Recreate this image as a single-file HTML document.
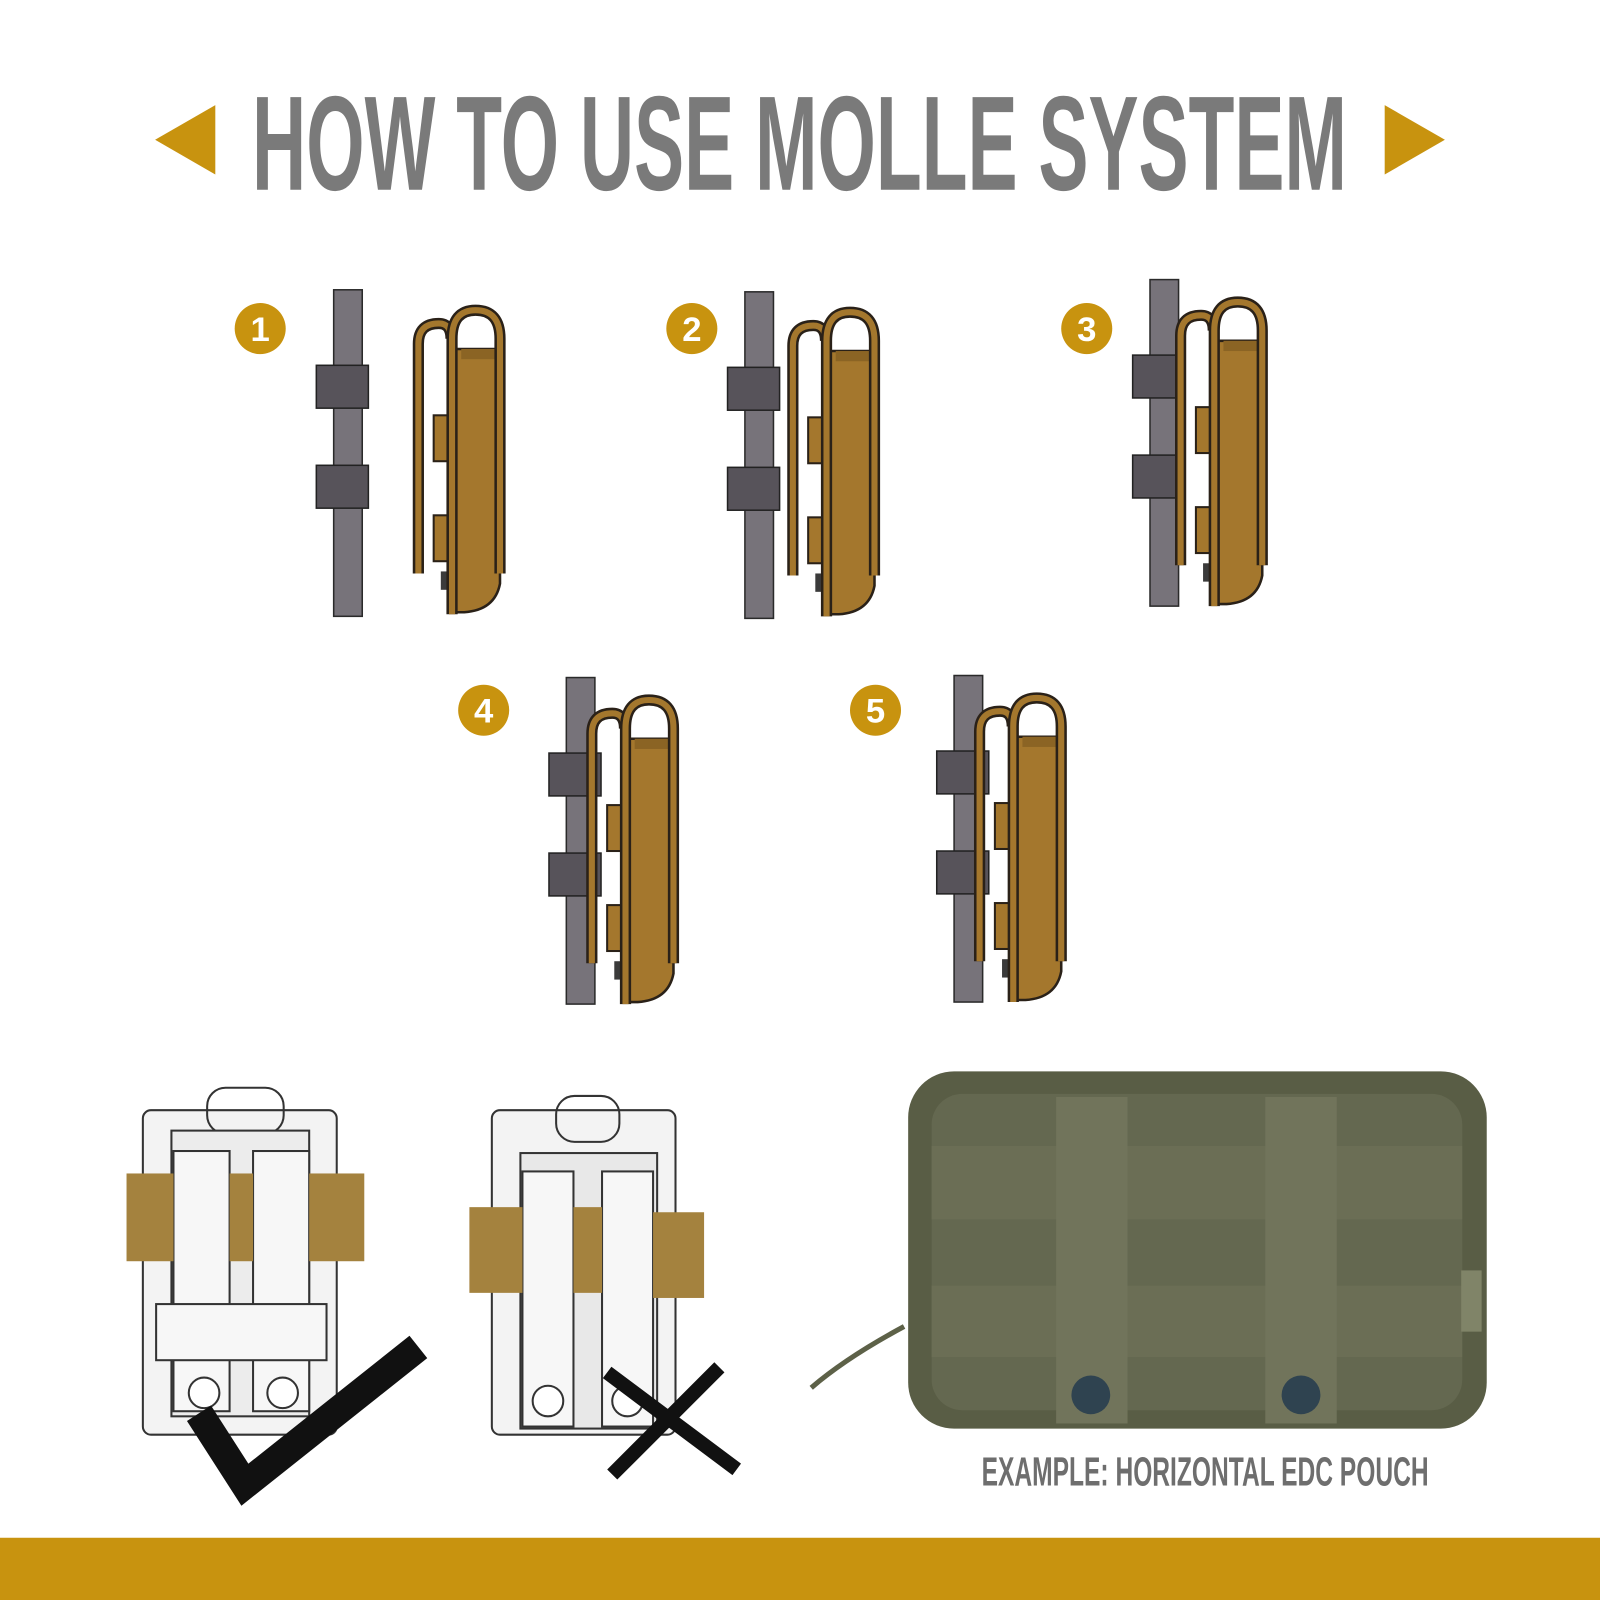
<!DOCTYPE html>
<html><head><meta charset="utf-8"><style>
html,body{margin:0;padding:0;background:#fff;}
svg{display:block;}
</style></head><body>
<svg width="1600" height="1600" viewBox="0 0 1568 1568" xmlns="http://www.w3.org/2000/svg">
<defs>
<g id="pouch">
  <!-- outer strap -->
  <path d="M0,260 L0,35 Q0,15 20,15 Q32,15 32,30" fill="none" stroke="#2a2118" stroke-width="11"/>
  <path d="M0,260 L0,35 Q0,15 20,15 Q32,15 32,30" fill="none" stroke="#a4772d" stroke-width="6"/>
  <!-- tabs -->
  <rect x="15" y="105" width="20" height="45" fill="#a4772d" stroke="#2a2118" stroke-width="2"/>
  <rect x="15" y="203" width="20" height="45" fill="#a4772d" stroke="#2a2118" stroke-width="2"/>
  <rect x="22" y="258" width="8" height="18" fill="#3b3b3b"/>
  <!-- body -->
  <path d="M33,40 L80,40 L80,270 Q75,296 45,298 L33,298 Z" fill="#a4772d" stroke="#2a2118" stroke-width="2.5"/>
  <rect x="42" y="40" width="38" height="10" fill="#8b6424"/>
  <!-- inner strap -->
  <path d="M33,300 L33,30 Q33,2 56,2 Q80,2 80,30 L80,260" fill="none" stroke="#2a2118" stroke-width="11"/>
  <path d="M33,300 L33,30 Q33,2 56,2 Q80,2 80,30 L80,260" fill="none" stroke="#a4772d" stroke-width="6"/>
</g>
<g id="pole">
  <rect x="0" y="0" width="28" height="320" fill="#77737a" stroke="#2a2a2a" stroke-width="1.5"/>
  <rect x="-17" y="74" width="51" height="42" fill="#57535a" stroke="#222" stroke-width="1.5"/>
  <rect x="-17" y="172" width="51" height="42" fill="#57535a" stroke="#222" stroke-width="1.5"/>
</g>
</defs>

<!-- title -->
<polygon points="152,137 211,103 211,171" fill="#c8930f"/>
<polygon points="1416,137 1357,103 1357,171" fill="#c8930f"/>
<text x="247" y="186" textLength="1073" lengthAdjust="spacingAndGlyphs" font-family="Liberation Sans Narrow, Liberation Sans, sans-serif" font-weight="bold" font-size="132" fill="#7a7a7a">HOW TO USE MOLLE SYSTEM</text>

<!-- numbers -->
<g font-family="Liberation Sans, sans-serif" font-weight="bold" font-size="34" fill="#fff" text-anchor="middle">
<circle cx="255" cy="322" r="25" fill="#c8930f"/><text x="255" y="334">1</text>
<circle cx="678" cy="322" r="25" fill="#c8930f"/><text x="678" y="334">2</text>
<circle cx="1065" cy="322" r="25" fill="#c8930f"/><text x="1065" y="334">3</text>
<circle cx="474" cy="696" r="25" fill="#c8930f"/><text x="474" y="708">4</text>
<circle cx="858" cy="696" r="25" fill="#c8930f"/><text x="858" y="708">5</text>
</g>

<!-- step 1 -->
<use href="#pole" x="327" y="284"/>
<use href="#pouch" x="410" y="302"/>
<!-- step 2 -->
<use href="#pole" x="730" y="286"/>
<use href="#pouch" x="777" y="304"/>
<!-- step 3 -->
<use href="#pole" x="1127" y="274"/>
<use href="#pouch" x="1157" y="294"/>
<!-- step 4 -->
<use href="#pole" x="555" y="664"/>
<use href="#pouch" x="580" y="684"/>
<!-- step 5 -->
<use href="#pole" x="935" y="662"/>
<use href="#pouch" x="960" y="682"/>

<!-- bottom left: correct -->
<g stroke="#333" stroke-width="2">
<rect x="140" y="1088" width="190" height="318" rx="8" fill="#f3f3f3"/>
<rect x="203" y="1066" width="75" height="45" rx="18" fill="none"/>
<rect x="168" y="1108" width="135" height="280" fill="#ececec"/>
<rect x="170" y="1128" width="55" height="255" fill="#f7f7f7"/>
<rect x="248" y="1128" width="55" height="255" fill="#f7f7f7"/>
<rect x="153" y="1278" width="167" height="55" fill="#f7f7f7"/>
<circle cx="200" cy="1365" r="15" fill="#fff"/>
<circle cx="277" cy="1365" r="15" fill="#fff"/>
</g>
<rect x="124" y="1150" width="46" height="86" fill="#a4823e"/>
<rect x="225" y="1150" width="23" height="86" fill="#a4823e"/>
<rect x="303" y="1150" width="54" height="86" fill="#a4823e"/>
<path d="M195,1385 L240,1455 L410,1320" fill="none" stroke="#111" stroke-width="28"/>

<!-- bottom middle: wrong -->
<g stroke="#333" stroke-width="2">
<rect x="482" y="1088" width="180" height="318" rx="8" fill="#f3f3f3"/>
<rect x="545" y="1074" width="62" height="45" rx="18" fill="none"/>
<rect x="510" y="1130" width="134" height="270" fill="#e8e8e8"/>
<rect x="512" y="1148" width="50" height="250" fill="#f7f7f7"/>
<rect x="590" y="1148" width="50" height="250" fill="#f7f7f7"/>
<circle cx="537" cy="1373" r="15" fill="#fff"/>
<circle cx="615" cy="1373" r="15" fill="#fff"/>
</g>
<rect x="460" y="1183" width="52" height="84" fill="#a4823e"/>
<rect x="562" y="1183" width="28" height="84" fill="#a4823e"/>
<rect x="640" y="1188" width="50" height="84" fill="#a4823e"/>
<path d="M595,1345 L722,1440 M705,1340 L600,1445" stroke="#111" stroke-width="14"/>

<!-- olive pouch -->
<path d="M886,1300 Q830,1330 795,1360" stroke="#5d6148" stroke-width="5" fill="none"/>
<rect x="890" y="1050" width="567" height="350" rx="45" fill="#595d45"/>
<rect x="913" y="1072" width="520" height="310" rx="30" fill="#646850"/>
<rect x="913" y="1123" width="520" height="72" fill="#6b6e55"/>
<rect x="913" y="1260" width="520" height="70" fill="#6b6e55"/>
<rect x="1035" y="1075" width="70" height="320" fill="#71745b"/>
<rect x="1240" y="1075" width="70" height="320" fill="#71745b"/>
<circle cx="1069" cy="1367" r="19" fill="#2f4350"/>
<circle cx="1275" cy="1367" r="19" fill="#2f4350"/>
<rect x="1432" y="1245" width="20" height="60" fill="#808468"/>

<text x="962" y="1456" textLength="438" lengthAdjust="spacingAndGlyphs" font-family="Liberation Sans Narrow, Liberation Sans, sans-serif" font-weight="bold" font-size="40" fill="#6e6e6e">EXAMPLE: HORIZONTAL EDC POUCH</text>

<rect x="0" y="1507" width="1568" height="61" fill="#c8930f"/>
</svg>
</body></html>
